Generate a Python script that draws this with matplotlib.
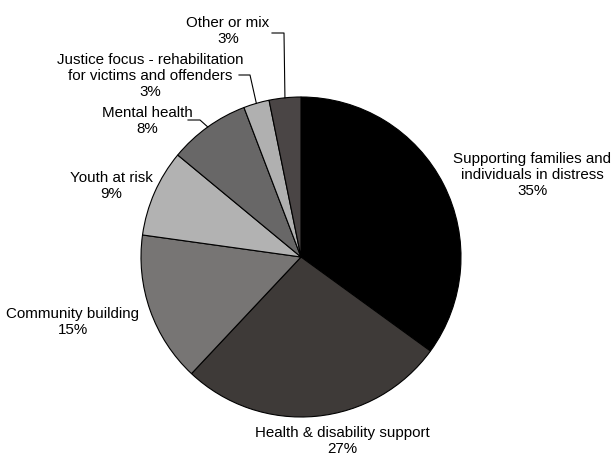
import matplotlib
matplotlib.use("Agg")
import matplotlib.pyplot as plt
import numpy as np

plt.rcParams['font.family'] = ['Liberation Sans', 'DejaVu Sans']

categories = [
    "Supporting families and\nindividuals in distress",
    "Health & disability support",
    "Community building",
    "Youth at risk",
    "Mental health",
    "Justice focus - rehabilitation\nfor victims and offenders",
    "Other or mix",
]
values = [35.0, 27.0, 15.2, 8.8, 8.2, 2.6, 3.2]
pct_labels = ["35%", "27%", "15%", "9%", "8%", "3%", "3%"]
colors = ["#000000", "#3e3a38", "#777574", "#b2b2b2", "#686767", "#b0b0b0", "#4a4545"]

W, H = 612, 455
CX, CY, R = 301, 257, 160

fig = plt.figure(figsize=(W / 100, H / 100), dpi=100)
ax = fig.add_axes([0, 0, 1, 1])

wedges, _ = ax.pie(values, colors=colors, startangle=90, counterclock=False,
                   radius=1.0, wedgeprops=dict(edgecolor="black", linewidth=0.8))

ax.set_xlim(-CX / R, (W - CX) / R)
ax.set_ylim((CY - H) / R, CY / R)
ax.set_aspect("equal")
ax.axis("off")


def p2d(px, py):
    return (px - CX) / R, (CY - py) / R


# label centre positions in pixels
label_pos = [
    (532, 175),
    (342, 441),
    (73, 322),
    (111, 186),
    (147, 121),
    (150, 76),
    (228, 31),
]
for cat, pct, (px, py) in zip(categories, pct_labels, label_pos):
    x, y = p2d(px, py)
    ax.text(x, y, f"{cat}\n{pct}", ha="center", va="center", fontsize=10.9,
            linespacing=1.22, color="black")

# leader lines: (wedge index, text-end px, elbow px)
leaders = [
    (4, (188, 120), (200, 120)),
    (5, (239, 75), (250, 75)),
    (6, (272, 33), (284, 33)),
]
for idx, (sx, sy), (ex, ey) in leaders:
    w = wedges[idx]
    mid = np.deg2rad((w.theta1 + w.theta2) / 2)
    tx, ty = np.cos(mid), np.sin(mid)
    x0, y0 = p2d(sx, sy)
    x1, y1 = p2d(ex, ey)
    ax.plot([x0, x1, tx], [y0, y1, ty], color="black", linewidth=0.8)

fig.savefig("out.png", dpi=100, facecolor="white")
